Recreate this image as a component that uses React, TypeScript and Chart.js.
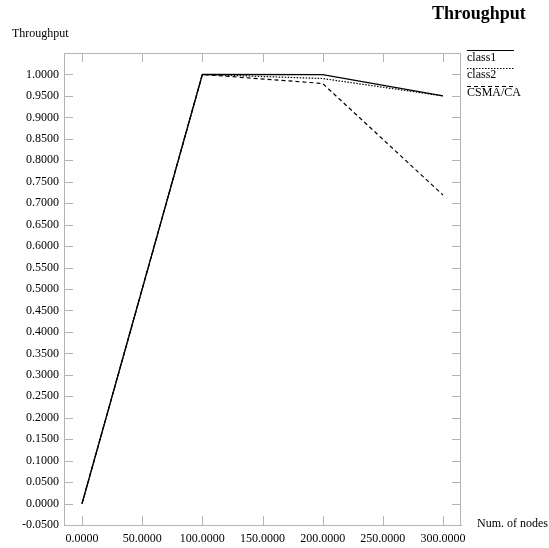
import React, { useEffect, useRef } from "react";
import { Chart, registerables } from "chart.js";

Chart.register(...registerables);

const xValues = [0, 100, 200, 300];
const class1 = [0, 1.0, 0.9995, 0.95];
const class2 = [0, 1.0, 0.9905, 0.95];
const csma = [0, 1.0, 0.979, 0.719];
const seriesNames = ["class1", "class2", "CSMA/CA"];
const seriesDash = [[], [1.5, 1.5], [4, 3]];
const chartTitle = "Throughput";
const yTitle = "Throughput";
const xTitle = "Num. of nodes";

const FONT = "'Liberation Serif', 'Times New Roman', serif";
const GRAY = "#b4b4b4";

const decor = {
  id: "decor",
  afterDatasetsDraw(chart: any) {
    const ctx = chart.ctx;
    const a = chart.chartArea;
    const xs = chart.scales.x;
    const ys = chart.scales.y;
    ctx.save();
    ctx.strokeStyle = GRAY;
    ctx.lineWidth = 1;
    ctx.setLineDash([]);
    ctx.beginPath();
    ys.ticks.forEach((t: any) => {
      const y = Math.round(ys.getPixelForValue(t.value)) + 0.5;
      ctx.moveTo(a.left, y);
      ctx.lineTo(a.left + 9, y);
      ctx.moveTo(a.right - 9, y);
      ctx.lineTo(a.right, y);
    });
    xs.ticks.forEach((t: any) => {
      const x = Math.round(xs.getPixelForValue(t.value)) + 0.5;
      ctx.moveTo(x, a.bottom);
      ctx.lineTo(x, a.bottom - 9);
      ctx.moveTo(x, a.top);
      ctx.lineTo(x, a.top + 9);
    });
    // top and right borders
    const top = Math.round(a.top) + 0.5;
    const right = Math.round(a.right) - 0.5;
    ctx.moveTo(a.left, top);
    ctx.lineTo(a.right, top);
    ctx.moveTo(right, a.top);
    ctx.lineTo(right, a.bottom);
    ctx.stroke();
    ctx.restore();
  },
  afterDraw(chart: any) {
    const ctx = chart.ctx;
    ctx.save();
    ctx.fillStyle = "#000";
    ctx.font = "bold 18px " + FONT;
    ctx.textAlign = "left";
    ctx.textBaseline = "alphabetic";
    ctx.fillText(chartTitle, 432, 19);
    ctx.font = "12px " + FONT;
    ctx.textBaseline = "middle";
    ctx.fillText(yTitle, 12, 34);
    ctx.fillText(xTitle, 477, 524);
    // legend
    const lineY = [50.5, 68.5, 86.5];
    const textY = [57.5, 75, 93];
    seriesNames.forEach((n, i) => {
      ctx.strokeStyle = "#000";
      ctx.lineWidth = 1;
      ctx.setLineDash(seriesDash[i]);
      ctx.beginPath();
      ctx.moveTo(467, lineY[i]);
      ctx.lineTo(514, lineY[i]);
      ctx.stroke();
      ctx.fillText(n, 467, textY[i]);
    });
    ctx.restore();
  },
};

export default function App() {
  const ref = useRef<HTMLCanvasElement>(null);
  useEffect(() => {
    if (!ref.current) return;
    const mk = (data: number[]) => data.map((v, i) => ({ x: xValues[i], y: v }));
    const chart = new Chart(ref.current, {
      type: "line",
      data: {
        datasets: [
          { label: seriesNames[2], data: mk(csma), borderColor: "#000", borderWidth: 1.2, borderDash: seriesDash[2], pointRadius: 0, fill: false, tension: 0 },
          { label: seriesNames[1], data: mk(class2), borderColor: "#000", borderWidth: 1.2, borderDash: seriesDash[1], pointRadius: 0, fill: false, tension: 0 },
          { label: seriesNames[0], data: mk(class1), borderColor: "#000", borderWidth: 1.3, pointRadius: 0, fill: false, tension: 0 },
        ],
      },
      options: {
        animation: false,
        responsive: false,
        maintainAspectRatio: false,
        layout: { padding: { left: 0, top: 53, right: 88, bottom: 0 } },
        font: { family: FONT },
        plugins: { legend: { display: false }, tooltip: { enabled: false }, title: { display: false } },
        scales: {
          x: {
            type: "linear",
            min: -15,
            max: 315,
            grid: { display: true, drawOnChartArea: false, drawTicks: false, color: GRAY },
            border: { display: true, color: GRAY, width: 1 },
            ticks: {
              stepSize: 50,
              includeBounds: false,
              padding: 7,
              maxRotation: 0,
              autoSkip: false,
              color: "#000",
              font: { family: FONT, size: 12 },
              callback: (v: any) => Number(v).toFixed(4),
            },
            afterFit: (s: any) => { s.height = 23; },
          },
          y: {
            type: "linear",
            min: -0.05,
            max: 1.05,
            grid: { display: true, drawOnChartArea: false, drawTicks: false, color: GRAY },
            border: { display: true, color: GRAY, width: 1 },
            afterBuildTicks: (s: any) => { s.ticks = s.ticks.filter((t: any) => t.value <= 1.0001); },
            ticks: {
              stepSize: 0.05,
              includeBounds: false,
              padding: 5,
              autoSkip: false,
              color: "#000",
              font: { family: FONT, size: 12 },
              callback: (v: any) => Number(v).toFixed(4),
            },
            afterFit: (s: any) => { s.width = 64; },
          },
        },
      },
      plugins: [decor],
    } as any);
    return () => chart.destroy();
  }, []);
  return (
    <div style={{ position: "absolute", left: 0, top: 0, width: 549, height: 548, background: "#fff" }}>
      <canvas ref={ref} width={549} height={548} style={{ display: "block" }} />
    </div>
  );
}
